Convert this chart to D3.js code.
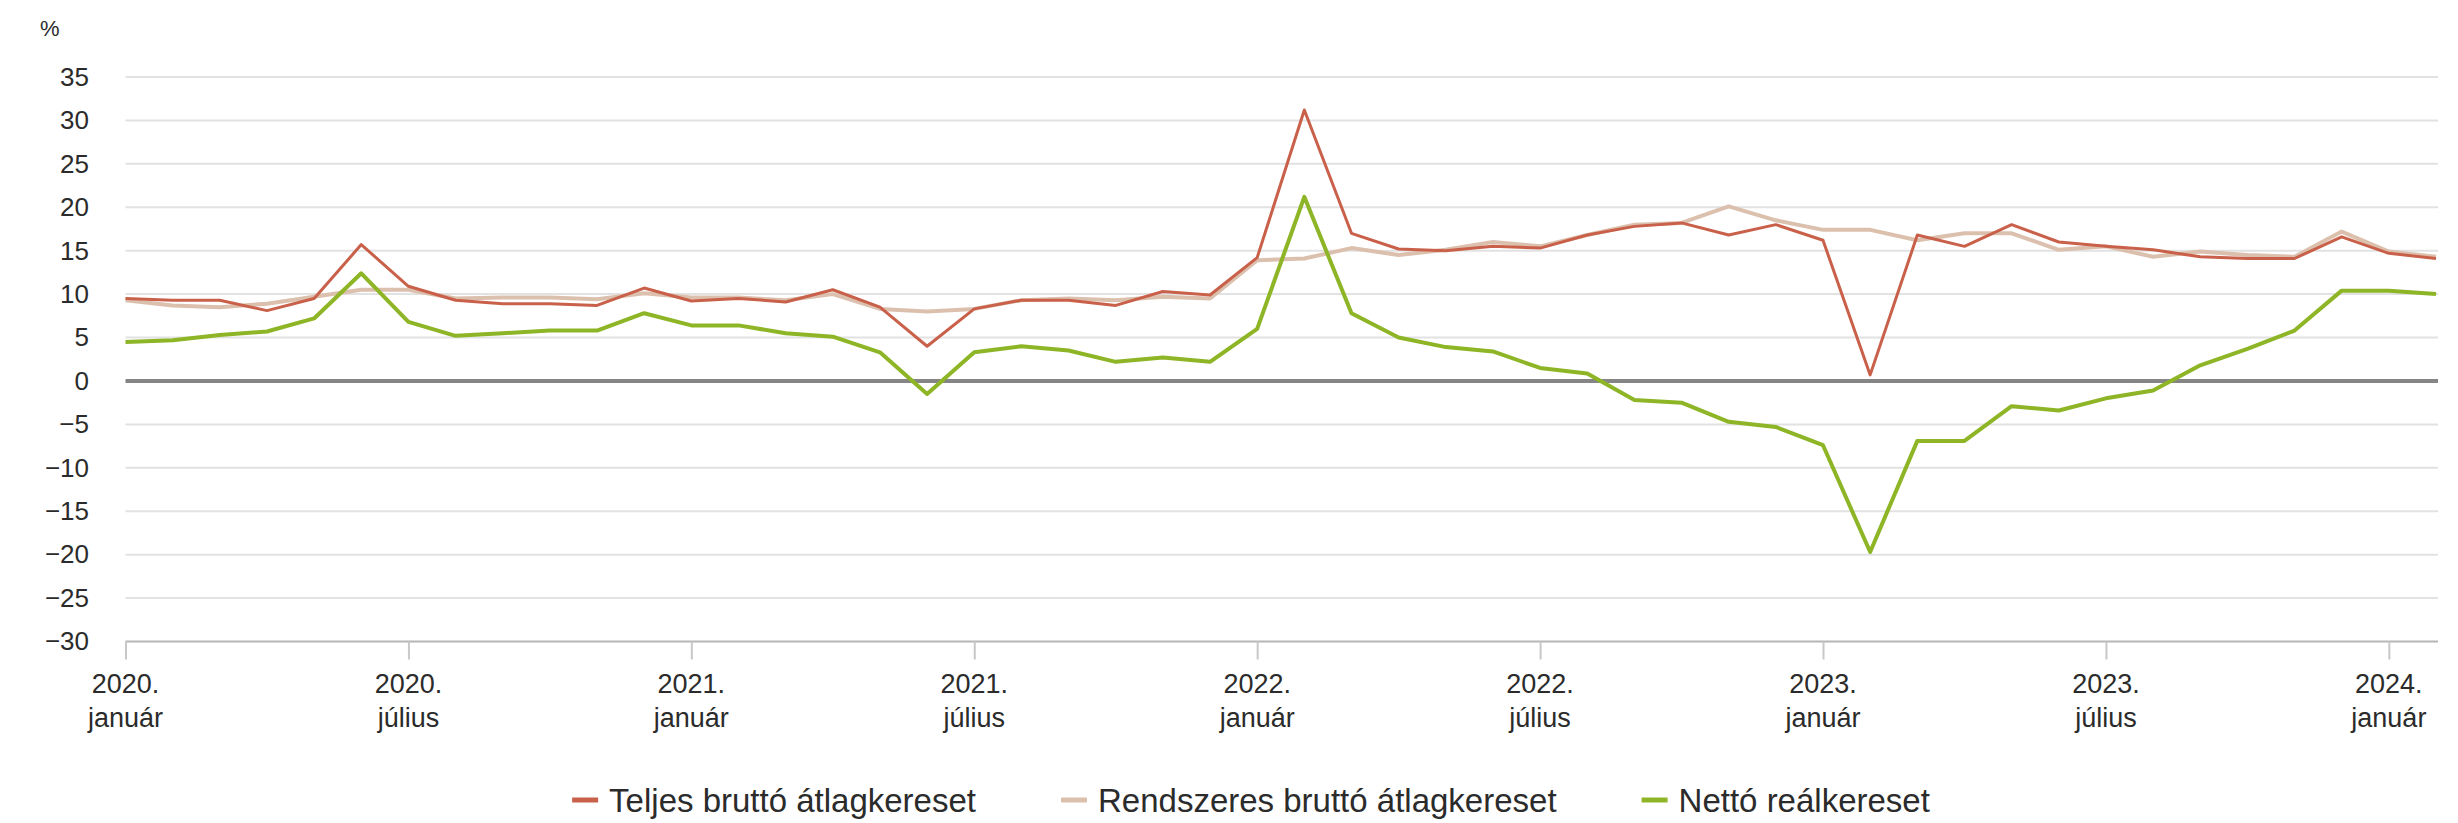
<!DOCTYPE html>
<html lang="hu">
<head>
<meta charset="UTF-8">
<title>Keresetek változása</title>
<script src="https://cdn.jsdelivr.net/npm/d3@7"></script>
<style>
  body { margin: 0; background: #fff; }
  svg text { font-family: "Liberation Sans", Arial, sans-serif; fill: #2b2b2b; }
</style>
</head>
<body>
<div id="chart"></div>
<script>
// havi időszakok, 2020. január – 2024. február
var periods = [
  "2020-01","2020-02","2020-03","2020-04","2020-05","2020-06","2020-07","2020-08","2020-09","2020-10","2020-11","2020-12",
  "2021-01","2021-02","2021-03","2021-04","2021-05","2021-06","2021-07","2021-08","2021-09","2021-10","2021-11","2021-12",
  "2022-01","2022-02","2022-03","2022-04","2022-05","2022-06","2022-07","2022-08","2022-09","2022-10","2022-11","2022-12",
  "2023-01","2023-02","2023-03","2023-04","2023-05","2023-06","2023-07","2023-08","2023-09","2023-10","2023-11","2023-12",
  "2024-01","2024-02"
];

// Teljes bruttó átlagkereset, %
var teljes = [
  9.5, 9.3, 9.3, 8.1, 9.5, 15.7, 10.9, 9.3, 8.9, 8.9, 8.7, 10.7,
  9.2, 9.5, 9.1, 10.5, 8.5, 4.0, 8.3, 9.3, 9.3, 8.7, 10.3, 9.9,
  14.2, 31.2, 17.0, 15.2, 15.0, 15.5, 15.3, 16.8, 17.8, 18.2, 16.8, 18.0,
  16.2, 0.7, 16.8, 15.5, 18.0, 16.0, 15.5, 15.1, 14.3, 14.1, 14.1, 16.6,
  14.7, 14.1
];

// Rendszeres bruttó átlagkereset, %
var rendszeres = [
  9.3, 8.7, 8.5, 8.9, 9.7, 10.5, 10.5, 9.5, 9.6, 9.6, 9.4, 10.1,
  9.6, 9.6, 9.3, 10.0, 8.3, 8.0, 8.3, 9.3, 9.5, 9.3, 9.7, 9.5,
  13.9, 14.1, 15.3, 14.5, 15.1, 16.0, 15.5, 16.8, 18.0, 18.2, 20.1, 18.5,
  17.4, 17.4, 16.2, 17.0, 17.0, 15.1, 15.5, 14.3, 14.9, 14.5, 14.3, 17.2,
  14.9, 14.3
];

// Nettó reálkereset, %
var netto = [
  4.5, 4.7, 5.3, 5.7, 7.2, 12.4, 6.8, 5.2, 5.5, 5.8, 5.8, 7.8,
  6.4, 6.4, 5.5, 5.1, 3.3, -1.5, 3.3, 4.0, 3.5, 2.2, 2.7, 2.2,
  6.0, 21.2, 7.8, 5.0, 3.9, 3.4, 1.5, 0.85, -2.2, -2.5, -4.7, -5.3,
  -7.4, -19.7, -6.9, -6.9, -2.9, -3.4, -2.0, -1.1, 1.8, 3.7, 5.8, 10.4,
  10.4, 10.0
];

var tickIndex = [0, 6, 12, 18, 24, 30, 36, 42, 48];
var tickYear  = ["2020.", "2020.", "2021.", "2021.", "2022.", "2022.", "2023.", "2023.", "2024."];
var tickMonth = ["január", "július", "január", "július", "január", "július", "január", "július", "január"];
var yTicks = [35, 30, 25, 20, 15, 10, 5, 0, -5, -10, -15, -20, -25, -30];

var seriesNames  = ["Teljes bruttó átlagkereset", "Rendszeres bruttó átlagkereset", "Nettó reálkereset"];
var seriesColors = ["#c9604a", "#dcc0ae", "#8db526"];

var W = 2458, H = 823;
var margin = {left: 125.5, right: 2436, top: 77, bottom: 641.5};
var gridEnd = 2438;

var svg = d3.select("#chart").append("svg")
  .attr("width", W)
  .attr("height", H);

var x = d3.scaleLinear().domain([0, periods.length - 1]).range([margin.left, margin.right]);
var y = d3.scaleLinear().domain([-30, 35]).range([margin.bottom, margin.top]);

// vízszintes rácsvonalak
svg.append("g")
  .selectAll("line")
  .data(yTicks.filter(function(d) { return d !== -30 && d !== 0; }))
  .enter().append("line")
    .attr("x1", margin.left).attr("x2", gridEnd)
    .attr("y1", function(d) { return y(d); })
    .attr("y2", function(d) { return y(d); })
    .style("stroke", "#e2e2e2")
    .style("stroke-width", 2);

// y tengely feliratok
svg.append("g")
  .attr("transform", "translate(89,0)")
  .call(d3.axisLeft(y).tickValues(yTicks).tickSize(0).tickPadding(0))
  .call(function(g) { g.select(".domain").remove(); })
  .selectAll("text")
    .style("font-size", "26px")
    .style("font-family", "\"Liberation Sans\", Arial, sans-serif")
    .style("fill", "#2b2b2b");

svg.append("text")
  .attr("x", 40)
  .attr("y", 36)
  .style("font-size", "22px")
  .text("%");

// x tengely
var xAxis = svg.append("g")
  .attr("transform", "translate(0," + margin.bottom + ")")
  .call(d3.axisBottom(x).tickValues(tickIndex).tickSize(18).tickFormat(""));
xAxis.select(".domain")
  .attr("d", "M" + margin.left + ",0H" + gridEnd)
  .style("stroke", "#b5b5b5")
  .style("stroke-width", 2);
xAxis.selectAll(".tick line")
  .style("stroke", "#c8c8c8")
  .style("stroke-width", 2);

var tl = svg.append("g").selectAll("text")
  .data(tickIndex)
  .enter().append("text")
    .attr("text-anchor", "middle")
    .style("font-size", "27px");
tl.append("tspan")
  .attr("x", function(d) { return x(d); })
  .attr("y", 693)
  .text(function(d, i) { return tickYear[i]; });
tl.append("tspan")
  .attr("x", function(d) { return x(d); })
  .attr("y", 727)
  .text(function(d, i) { return tickMonth[i]; });

// nulla vonal
svg.append("line")
  .attr("x1", margin.left).attr("x2", gridEnd)
  .attr("y1", y(0)).attr("y2", y(0))
  .style("stroke", "#858585")
  .style("stroke-width", 4);

// vonalak
var line = d3.line()
  .x(function(d, i) { return x(i); })
  .y(function(d) { return y(d); });

var drawOrder = [
  { data: rendszeres, color: seriesColors[1], width: 4 },
  { data: teljes, color: seriesColors[0], width: 3 },
  { data: netto, color: seriesColors[2], width: 4 }
];
drawOrder.forEach(function(s) {
  svg.append("path")
    .datum(s.data)
    .attr("d", line)
    .style("fill", "none")
    .style("stroke", s.color)
    .style("stroke-width", s.width)
    .style("stroke-linejoin", "round");
});

// jelmagyarázat
var legend = svg.append("g");
var lx = 0;
seriesNames.forEach(function(name, i) {
  var item = legend.append("g").attr("transform", "translate(" + lx + ",0)");
  item.append("line")
    .attr("x1", 0).attr("x2", 26)
    .style("stroke", seriesColors[i])
    .style("stroke-width", 5);
  var t = item.append("text")
    .attr("x", 37)
    .attr("dy", "0.35em")
    .style("font-size", "33px")
    .text(name);
  lx += 37 + t.node().getComputedTextLength() + 85;
});
var legendWidth = lx - 85;
legend.attr("transform", "translate(" + (1251 - legendWidth / 2) + ",800)");
</script>
</body>
</html>
